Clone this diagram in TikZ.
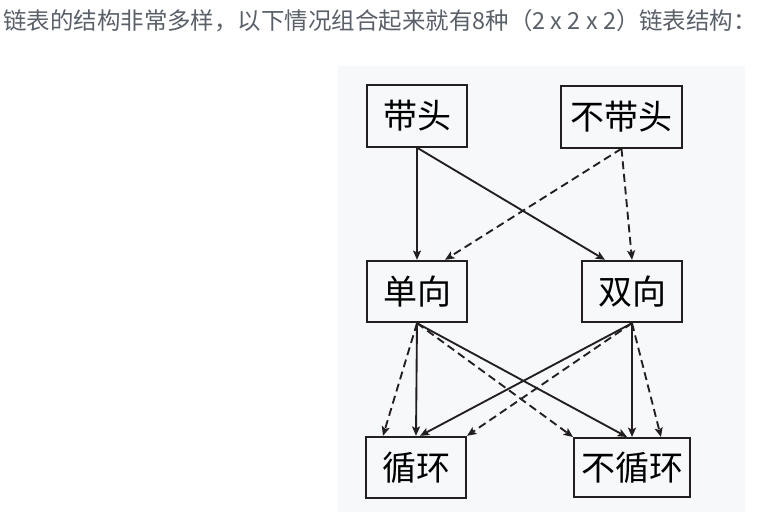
\documentclass[tikz,border=0pt]{standalone}
\usepackage{fontspec}
\newfontfamily\cjk{Noto Sans CJK SC}
\usetikzlibrary{arrows.meta,calc}
\definecolor{ListInk}{HTML}{231F20}
\definecolor{ListGray}{HTML}{5A6069}
\definecolor{ListPanel}{HTML}{F6F8FA}
\tikzset{
  figtitle/.style={font=\cjk\fontsize{17.6}{21}\selectfont\color{ListGray},
                   anchor=base west, inner sep=0pt},
  kindbox/.style={draw=ListInk, line width=1.5pt, inner sep=0pt,
                  minimum width=75pt, minimum height=46pt,
                  font=\cjk\fontsize{25.5}{30}\selectfont\color{black}},
  arrow/.style={-{Stealth[length=7pt,width=6pt,inset=1.5pt]}, line width=1.4pt, ListInk},
  dasharrow/.style={arrow, dash pattern=on 6pt off 3.5pt},
}

\begin{document}
\begin{tikzpicture}[x=0.75pt,y=-0.75pt]
  \useasboundingbox (0,0) rectangle (765,513);

  % panel and caption
  \fill[ListPanel] (338,66) rectangle (745,512);
  \node[figtitle] (title) at (3,30)
        {链表的结构非常多样，以下情况组合起来就有8种（2 x 2 x 2）链表结构：};

  % top row
  \node[kindbox] (head) at (417,116) {带头};
  \node[kindbox, minimum width=90.75pt] (nohead) at (621.5,117) {不带头};
  % middle row
  \node[kindbox] (single) at (417,291.5) {单向};
  \node[kindbox] (double) at (632,291.5) {双向};
  % bottom row
  \node[kindbox] (loop) at (416,467.5) {循环};
  \node[kindbox, minimum width=87pt, minimum height=44.25pt] (noloop) at (632,467.5) {不循环};

  % head / no head
  \draw[arrow] (head.south) -- (single.north);
  \draw[arrow] (head.south) -- ($(double.north)+(-27,0)$);
  \draw[dasharrow] (nohead.south) -- ($(single.north)+(28,0)$);
  \draw[dasharrow] (nohead.south) -- (double.north);

  % single / double
  \draw[arrow] (single.south) -- (loop.north);
  \draw[dasharrow] (single.south) -- ($(loop.north)+(-33,0)$);
  \draw[arrow] (single.south) -- ($(noloop.north)+(-5,0)$);
  \draw[dasharrow] (single.south) -- (noloop.north west);
  \draw[arrow] (double.south) -- ($(loop.north)+(4,0)$);
  \draw[dasharrow] (double.south) -- (loop.north east);
  \draw[arrow] (double.south) -- (noloop.north);
  \draw[dasharrow] (double.south) -- ($(noloop.north)+(29,0)$);

\end{tikzpicture}
\end{document}
